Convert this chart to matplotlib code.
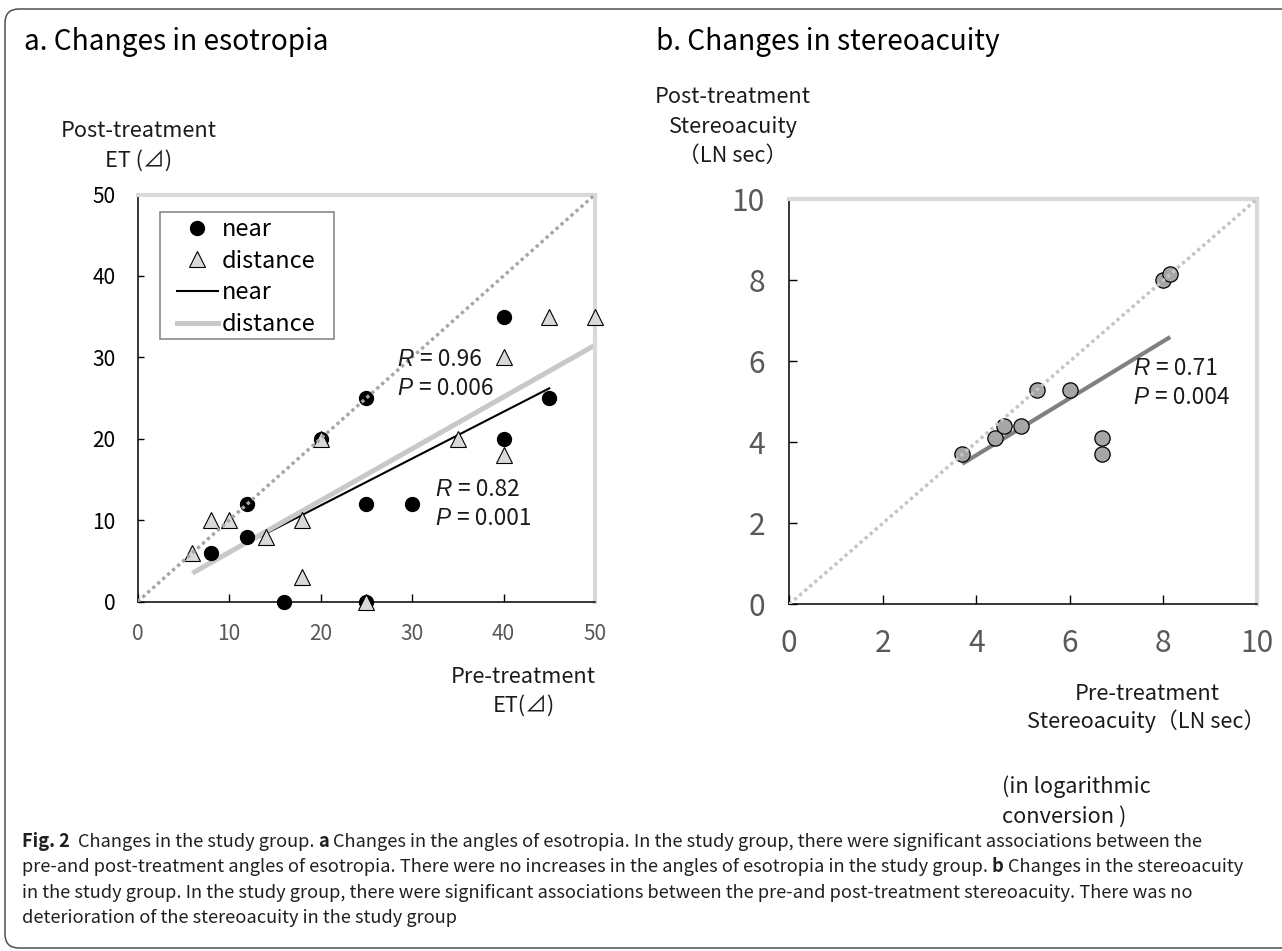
import matplotlib
matplotlib.use('Agg')
import matplotlib.pyplot as plt
from matplotlib.lines import Line2D
from matplotlib.patches import FancyBboxPatch, Rectangle
from matplotlib.transforms import IdentityTransform

W, H = 1282, 951
plt.rcParams['font.family'] = ['Noto Sans CJK JP', 'DejaVu Sans']

# ---------------- data ----------------
near_pre = [8, 12, 12, 16, 20, 25, 25, 25, 30, 40, 40, 45]
near_post = [6, 12, 8, 0, 20, 25, 12, 0, 12, 35, 20, 25]
dist_pre = [6, 8, 10, 14, 18, 18, 20, 25, 35, 40, 40, 45, 50]
dist_post = [6, 10, 10, 8, 10, 3, 20, 0, 20, 30, 18, 35, 35]
near_fit_x = [8, 45]
near_fit_y = [4.9, 26.2]
dist_fit_x = [6, 50]
dist_fit_y = [3.5, 31.5]
stereo_pre = [3.7, 4.4, 4.6, 4.95, 5.3, 6.0, 6.7, 6.7, 8.0, 8.15]
stereo_post = [3.7, 4.1, 4.4, 4.4, 5.3, 5.3, 4.1, 3.7, 8.0, 8.15]
stereo_fit_x = [3.7, 8.15]
stereo_fit_y = [3.47, 6.6]
et_ticks = [0, 10, 20, 30, 40, 50]
sa_ticks = [0, 2, 4, 6, 8, 10]
legend_labels = ['near', 'distance', 'near', 'distance']

fig = plt.figure(figsize=(W / 100, H / 100), dpi=100)
r = fig.canvas.get_renderer()
ID = IdentityTransform()


def text_width(s, **kw):
    t = fig.text(0, 0, '|' + s + '|', transform=ID, **kw)
    t2 = fig.text(0, 0, '||', transform=ID, **kw)
    w = t.get_window_extent(r).width - t2.get_window_extent(r).width
    t.remove()
    t2.remove()
    return w


def size_for(s, target, **kw):
    return 20 * target / text_width(s, fontsize=20, **kw)


def draw_segments(x, yb, segs, size, color, space_scale=1.0):
    cx = x
    sw_cache = {}
    for s, kw in segs:
        key = tuple(sorted(kw.items()))
        if key not in sw_cache:
            sw_cache[key] = text_width(' ', fontsize=size, **kw) * space_scale
        sw = sw_cache[key]
        lead = len(s) - len(s.lstrip(' '))
        trail = len(s) - len(s.rstrip(' '))
        core = s.strip(' ')
        cx += lead * sw
        if core:
            fig.text(cx, H - yb, core, transform=ID, fontsize=size, color=color,
                     ha='left', va='baseline', **kw)
            cx += text_width(core, fontsize=size, **kw)
        cx += trail * sw
    return cx


def ftext(x, yb, s, size, ha='left', color='#1a1a1a', **kw):
    fig.text(x, H - yb, s, transform=ID, fontsize=size, ha=ha, va='baseline',
             color=color, **kw)


# ---------------- frame ----------------
fig.add_artist(FancyBboxPatch((5, H - 948), 1300, 939,
                              boxstyle='round,pad=0,rounding_size=14',
                              transform=ID, fill=False, ec='#505050', lw=1.1))

# ---------------- axes ----------------
axL = fig.add_axes([137.5 / W, 1 - 601.7 / H, (595 - 137.5) / W, (601.7 - 194.5) / H])
axR = fig.add_axes([789.3 / W, 1 - 604.3 / H, (1256.7 - 789.3) / W, (604.3 - 199.3) / H])

GRAYLAB = '#595959'
fs_ly = size_for('50', 23.3)
fs_lx = size_for('10', 23.3)
fs_r = size_for('10', 33.3)


def style_axes(ax, lim, ticks, ycol, xcol, ysz, xsz, ypad, xpad, ylen, xlen):
    ax.set_xlim(0, lim)
    ax.set_ylim(0, lim)
    ax.set_xticks(ticks)
    ax.set_yticks(ticks)
    for side in ['top', 'right']:
        ax.spines[side].set_color('#d9d9d9')
        ax.spines[side].set_linewidth(3)
    for side in ['left', 'bottom']:
        ax.spines[side].set_color('black')
        ax.spines[side].set_linewidth(1.1)
    ax.tick_params(axis='y', direction='in', length=ylen, width=1, labelsize=ysz,
                   labelcolor=ycol, pad=ypad)
    ax.tick_params(axis='x', direction='in', length=xlen, width=1, labelsize=xsz,
                   labelcolor=xcol, pad=xpad)
    ax.patch.set_alpha(0)


style_axes(axL, 50, et_ticks, 'black', GRAYLAB, fs_ly, fs_lx, 16, 15, 4.3, 5.8)
style_axes(axR, 10, sa_ticks, GRAYLAB, GRAYLAB, fs_r, fs_r, 17.5, 17, 6, 6.3)

# ---- left panel ----
axL.plot(near_fit_x, near_fit_y, color='black', lw=1.5, zorder=2)
axL.plot(dist_fit_x, dist_fit_y, color='#c8c8c8', lw=3.6, zorder=2.1,
         solid_capstyle='butt')
axL.plot(near_pre, near_post, 'o', color='black', ms=10, clip_on=False, zorder=3)
axL.plot(dist_pre, dist_post, '^', mfc='#d9d9d9', mec='black', mew=0.8, ms=11,
         ls='none', clip_on=False, zorder=3.1)
axL.axline((0, 0), slope=1, color='#a6a6a6', lw=2.4, ls=(0, (1, 1)),
           dash_capstyle='butt', zorder=4)

handles = [Line2D([], [], marker='o', ls='none', color='black', ms=10),
           Line2D([], [], marker='^', ls='none', mfc='#d9d9d9', mec='black', mew=0.8, ms=11),
           Line2D([], [], color='black', lw=1.5),
           Line2D([], [], color='#c8c8c8', lw=3.6)]
leg_fs = size_for('distance', 94)
leg_px = leg_fs / 0.72
axL.legend(handles, legend_labels, loc='upper left',
           bbox_to_anchor=(177 / W, 1 - 218 / H), bbox_transform=fig.transFigure,
           frameon=False, borderpad=0, borderaxespad=0, fontsize=leg_fs,
           handlelength=41 / leg_px, handletextpad=3.6 / leg_px,
           labelspacing=0.37, numpoints=1)
fig.add_artist(Rectangle((159.8, H - 339), 333.7 - 159.8, 339 - 212.3, transform=ID,
                         fill=False, ec='#808080', lw=1.1))

# ---- right panel ----
axR.plot(stereo_fit_x, stereo_fit_y, color='#808080', lw=3, zorder=2,
         solid_capstyle='butt')
axR.plot(stereo_pre, stereo_post, 'o', mfc='#a6a6a6', mec='black', mew=0.9, ms=11,
         ls='none', clip_on=False, zorder=3)
axR.axline((0, 0), slope=1, color='#c4c4c4', lw=2.4, ls=(0, (1, 1)),
           dash_capstyle='butt', zorder=4)

# ---------------- texts ----------------
title_fs = size_for('a. Changes in esotropia', 304)
ftext(24, 50, 'a. Changes in esotropia', title_fs, color='black')
ftext(656, 50, 'b. Changes in stereoacuity', title_fs, color='black')

lab_fs = size_for('Post-treatment', 155.7)
ftext(139, 137, 'Post-treatment', lab_fs, ha='center')
ftext(139, 166.7, 'ET (⊿)', lab_fs, ha='center')
ftext(523, 683, 'Pre-treatment', lab_fs, ha='center')
ftext(524, 711.7, 'ET(⊿)', lab_fs, ha='center')

ftext(733, 103, 'Post-treatment', lab_fs, ha='center')
ftext(733, 133, 'Stereoacuity', lab_fs, ha='center')
ftext(733, 161.7, '（LN sec）', lab_fs, ha='center')
ftext(1147, 700, 'Pre-treatment', lab_fs, ha='center')
ftext(1146, 728, 'Stereoacuity（LN sec）', lab_fs, ha='center')
ftext(1002, 793, '(in logarithmic', lab_fs)
ftext(1002, 823, 'conversion )', lab_fs)

ann_fs = size_for('R = 0.96', 81)
ITAL = dict(family='Liberation Sans', style='italic')


def annotate(x, yb, rval, pval):
    draw_segments(x, yb, [('R', ITAL), (' = ' + rval, {})], ann_fs, '#1a1a1a', 1.3)
    draw_segments(x, yb + 29.5, [('P', ITAL), (' = ' + pval, {})], ann_fs, '#1a1a1a', 1.3)


fig.canvas.draw()
annotate(397, 365.7, '0.96', '0.006')
annotate(435.4, 495.7, '0.82', '0.001')
annotate(1133.3, 375, '0.71', '0.004')

# ---------------- caption ----------------
B = dict(weight='bold')
R_ = {}
cap_lines = [
    [('Fig. 2', B), ('  Changes in the study group. ', R_), ('a', B),
     (' Changes in the angles of esotropia. In the study group, there were significant associations between the', R_)],
    [('pre-and post-treatment angles of esotropia. There were no increases in the angles of esotropia in the study group. ', R_),
     ('b', B), (' Changes in the stereoacuity', R_)],
    [('in the study group. In the study group, there were significant associations between the pre-and post-treatment stereoacuity. There was no', R_)],
    [('deterioration of the stereoacuity in the study group', R_)],
]
cap_fs = size_for(''.join(s for s, _ in cap_lines[1]), 1242 - 21.7)
for i, segs in enumerate(cap_lines):
    draw_segments(21.7, 846.7 + i * 25.5, segs, cap_fs, '#231f20')

fig.savefig('out.png', dpi=100)
